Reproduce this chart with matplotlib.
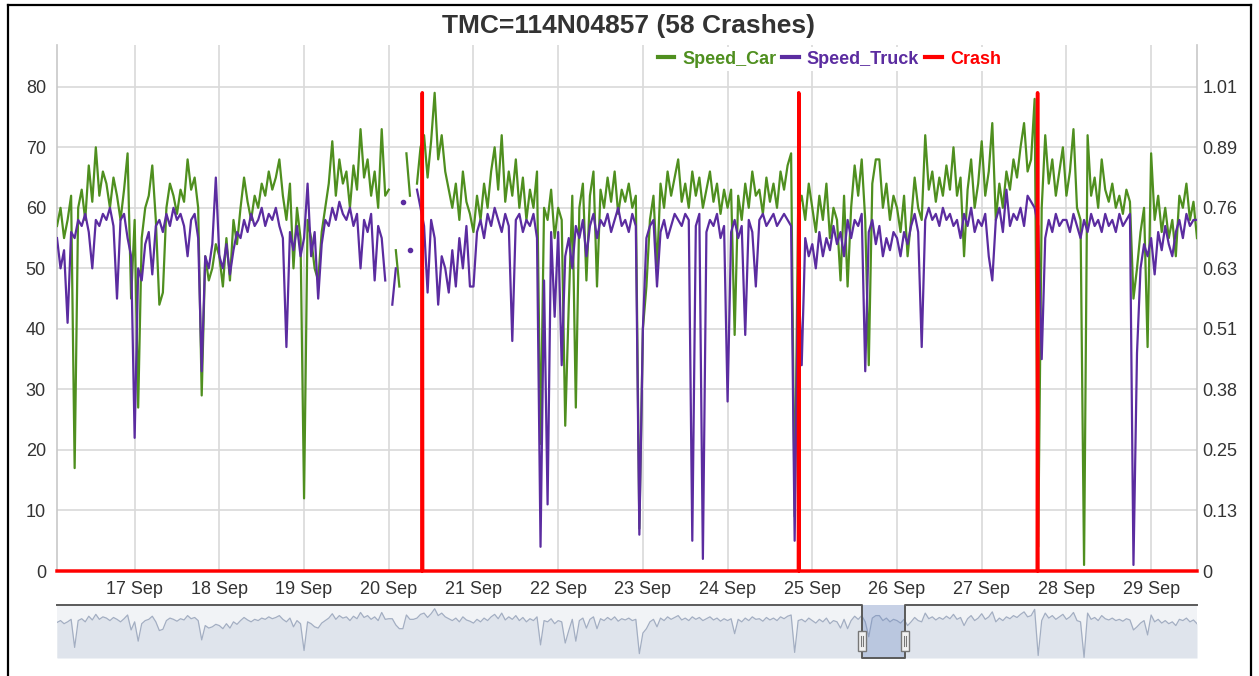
import numpy as np
import pandas as pd
import matplotlib
matplotlib.use('Agg')
import matplotlib.pyplot as plt
import matplotlib.dates as mdates
import matplotlib.transforms as mtransforms
from matplotlib.lines import Line2D
from matplotlib.patches import Rectangle

plt.rcParams['font.family'] = ['Liberation Sans', 'DejaVu Sans']

title = 'TMC=114N04857 (58 Crashes)'
start = '2019-09-16 02:00'
nan = np.nan

# hourly speeds, one list per day (16 Sep starts at 02:00, 29 Sep ends at 13:00)
car_16 = [57, 60, 55, 58, 62, 17, 60, 63, 58, 67, 61, 70, 62, 66, 64, 60, 65, 62, 58, 63, 69, 45]
car_17 = [58, 27, 55, 60, 62, 67, 58, 44, 46, 60, 64, 62, 59, 63, 61, 68, 63, 65, 60, 29, 52, 48, 50, 54]
car_18 = [52, 47, 55, 48, 58, 54, 60, 65, 61, 58, 62, 60, 64, 62, 66, 63, 65, 68, 62, 58, 64, 50, 60, 55]
car_19 = [12, 58, 55, 50, 48, 56, 60, 64, 71, 62, 68, 64, 66, 60, 67, 63, 73, 65, 68, 62, 66, 60, 73, 62]
car_20 = [63, nan, 53, 47, nan, 69, 62, nan, 64, 70, 72, 65, 71, 79, 68, 72, 66, 63, 60, 64, 58, 66, 61, 59]
car_21 = [56, 62, 58, 64, 60, 66, 70, 63, 72, 61, 66, 62, 68, 60, 65, 58, 63, 60, 66, 21, 60, 58, 63, 55]
car_22 = [60, 58, 24, 44, 62, 27, 60, 64, 48, 62, 66, 47, 63, 60, 65, 61, 66, 59, 63, 61, 64, 60, 62, 7]
car_23 = [40, 47, 58, 62, 50, 64, 60, 66, 62, 65, 68, 61, 64, 60, 66, 62, 65, 60, 63, 66, 61, 64, 59, 63]
car_24 = [60, 63, 39, 62, 58, 64, 60, 66, 62, 63, 59, 65, 61, 64, 60, 66, 63, 67, 69, 9, 60, 62, 58, 64]
car_25 = [60, 56, 62, 58, 64, 55, 60, 58, 48, 62, 47, 60, 67, 62, 68, 58, 34, 64, 68, 68, 60, 64, 58, 62]
car_26 = [60, 56, 62, 52, 58, 65, 60, 58, 72, 63, 66, 61, 65, 62, 67, 63, 70, 62, 65, 52, 63, 68, 60, 64]
car_27 = [71, 62, 66, 74, 58, 64, 60, 66, 63, 68, 65, 70, 74, 66, 68, 78, 4, 60, 72, 64, 68, 62, 66, 70]
car_28 = [62, 66, 73, 60, 58, 1, 72, 62, 65, 60, 68, 63, 61, 64, 60, 62, 59, 63, 61, 45, 50, 56, 60, 37]
car_29 = [69, 58, 62, 56, 60, 55, 58, 52, 62, 60, 64, 58, 61, 55]

truck_16 = [55, 50, 53, 41, 56, 55, 58, 57, 59, 56, 50, 58, 57, 59, 58, 60, 57, 45, 58, 59, 55, 52]
truck_17 = [22, 50, 48, 54, 56, 49, 57, 58, 56, 59, 57, 60, 58, 59, 57, 52, 58, 59, 55, 33, 52, 50, 54, 65]
truck_18 = [52, 50, 54, 49, 53, 56, 55, 58, 56, 59, 57, 58, 60, 57, 59, 58, 60, 57, 55, 37, 56, 53, 57, 52]
truck_19 = [55, 64, 52, 56, 45, 54, 58, 57, 60, 58, 61, 59, 58, 60, 57, 59, 50, 58, 56, 59, 48, 57, 55, 48]
truck_20 = [nan, 44, 50, nan, 61, nan, 53, nan, 63, 60, 57, 46, 58, 55, 44, 52, 50, 46, 53, 47, 55, 50, 57, 47]
truck_21 = [47, 56, 58, 55, 59, 57, 60, 58, 56, 59, 57, 38, 58, 59, 56, 58, 57, 59, 55, 4, 48, 11, 56, 42]
truck_22 = [56, 34, 52, 55, 50, 57, 55, 58, 52, 57, 59, 55, 58, 57, 59, 56, 58, 60, 57, 58, 56, 59, 57, 6]
truck_23 = [40, 55, 57, 58, 47, 56, 58, 55, 57, 59, 58, 57, 59, 58, 5, 57, 59, 2, 56, 58, 57, 59, 55, 57]
truck_24 = [28, 56, 58, 55, 57, 39, 58, 56, 47, 58, 59, 57, 58, 59, 57, 58, 59, 58, 57, 5, 50, 34, 55, 52]
truck_25 = [54, 50, 56, 52, 55, 53, 57, 54, 56, 52, 58, 55, 58, 57, 59, 33, 56, 58, 54, 57, 52, 55, 53, 56]
truck_26 = [55, 52, 56, 54, 57, 59, 56, 37, 58, 60, 58, 59, 57, 60, 58, 59, 57, 58, 55, 59, 57, 60, 56, 58]
truck_27 = [57, 59, 52, 48, 58, 60, 56, 63, 57, 59, 58, 60, 57, 62, 61, 60, 57, 35, 55, 58, 56, 59, 57, 58]
truck_28 = [58, 56, 59, 57, 55, 58, 56, 59, 57, 58, 56, 59, 57, 58, 56, 59, 57, 58, 59, 1, 36, 50, 54, 52]
truck_29 = [55, 49, 56, 53, 57, 54, 52, 56, 58, 55, 59, 57, 58, 58]

crash_times = ['2019-09-20 09:30', '2019-09-24 20:10', '2019-09-27 15:50']
right_labels = ['0', '0.13', '0.25', '0.38', '0.51', '0.63', '0.76', '0.89', '1.01']
left_ticks = [0, 10, 20, 30, 40, 50, 60, 70, 80]
nav_sel = ['2019-09-25 14:00', '2019-09-26 02:15']

car = np.array(car_16 + car_17 + car_18 + car_19 + car_20 + car_21 + car_22 +
               car_23 + car_24 + car_25 + car_26 + car_27 + car_28 + car_29, dtype=float)
truck = np.array(truck_16 + truck_17 + truck_18 + truck_19 + truck_20 + truck_21 + truck_22 +
                 truck_23 + truck_24 + truck_25 + truck_26 + truck_27 + truck_28 + truck_29, dtype=float)
times = pd.date_range(start, periods=len(car), freq='h')

c_car = '#4f8f1f'
c_truck = '#5b2ca0'
c_crash = '#ff0000'
grid_c = '#d9d9d9'
txt_c = '#333333'

W, H = 1259, 676
fig = plt.figure(figsize=(W / 100, H / 100), dpi=100)

# main plot area
ax = fig.add_axes([57 / W, 1 - 571 / H, 1140 / W, 526 / H])
ymax = 86.9
ax.set_ylim(0, ymax)
ax.set_xlim(times[0], times[-1])


def isolated(v):
    prev = np.r_[nan, v[:-1]]
    nxt = np.r_[v[1:], nan]
    return np.isfinite(v) & ~np.isfinite(prev) & ~np.isfinite(nxt)


ax.plot(times, car, color=c_car, lw=1.6, zorder=3)
m = isolated(car)
ax.plot(times[m], car[m], 'o', color=c_car, ms=3, zorder=3)
ax.plot(times, truck, color=c_truck, lw=1.6, zorder=4)
m = isolated(truck)
ax.plot(times[m], truck[m], 'o', color=c_truck, ms=3, zorder=4)

ax.set_yticks(left_ticks)
ax.xaxis.set_major_locator(mdates.DayLocator())
ax.xaxis.set_major_formatter(mdates.DateFormatter('%d %b'))
ax.grid(True, color=grid_c, lw=1.2, zorder=0)
ax.tick_params(length=0, labelsize=13, labelcolor=txt_c)
ax.tick_params(axis='y', pad=8)
ax.tick_params(axis='x', pad=7)
for s in ['top', 'bottom']:
    ax.spines[s].set_visible(False)
for s in ['left', 'right']:
    ax.spines[s].set_color('#c8c8c8')
    ax.spines[s].set_linewidth(1.2)

# right axis for crash flag
ax2 = ax.twinx()
rmax = 1.0125
ax2.set_ylim(0, ymax * rmax / 80)
ax2.set_yticks(np.linspace(0, rmax, len(right_labels)))
ax2.set_yticklabels(right_labels)
ax2.tick_params(length=0, labelsize=13, labelcolor=txt_c, pad=4)
for s in ax2.spines.values():
    s.set_visible(False)

ct = pd.to_datetime(crash_times)
dt = pd.Timedelta(minutes=6)
cx = [times[0]]
cy = [0]
for t in ct:
    cx += [t - dt, t, t + dt]
    cy += [0, 1, 0]
cx.append(times[-1])
cy.append(0)
ax2.plot(cx, cy, color=c_crash, lw=2.5, clip_on=False, zorder=5)

# title and legend
fig.text(628 / W, 1 - 26 / H, title, ha='center', va='center', fontsize=19,
         fontweight='bold', color=txt_c)
handles = [Line2D([], [], color=c, lw=3) for c in (c_car, c_truck, c_crash)]
leg = fig.legend(handles, ['Speed_Car', 'Speed_Truck', 'Crash'], ncol=3,
                 loc='upper left', bbox_to_anchor=(645 / W, 1 - 38 / H),
                 prop={'size': 13, 'weight': 'bold'}, frameon=True,
                 facecolor='white', edgecolor='none', framealpha=1,
                 handlelength=0.9, handletextpad=0.45, columnspacing=0.35,
                 borderpad=0.2)
for t, c in zip(leg.get_texts(), (c_car, c_truck, c_crash)):
    t.set_color(c)

# navigator
nav = fig.add_axes([57 / W, 1 - 658 / H, 1140 / W, 53 / H])
nav.set_facecolor('#f1f3f6')
nav.set_xlim(times[0], times[-1])
nav.set_ylim(0, 85)
car_nav = pd.Series(car).ffill().to_numpy()
nav.fill_between(times, car_nav, 0, color='#dfe4ec', lw=0)
nav.plot(times, car_nav, color='#a3aec2', lw=0.9)
s0, s1 = pd.to_datetime(nav_sel)
tr = mtransforms.blended_transform_factory(nav.transData, nav.transAxes)
nav.add_patch(Rectangle((mdates.date2num(s0), 0), mdates.date2num(s1) - mdates.date2num(s0), 1,
                        transform=tr, facecolor=(102 / 255, 133 / 255, 194 / 255, 0.3),
                        edgecolor='none', zorder=3))
nav.plot([times[0], s0, s0, s1, s1, times[-1]], [1, 1, 0, 0, 1, 1], transform=tr,
         color='#5a5a5a', lw=1.4, clip_on=False, zorder=4)
hw = 0.045
for s in (s0, s1):
    x0 = mdates.date2num(s)
    nav.add_patch(Rectangle((x0 - hw, 0.14), 2 * hw, 0.36, transform=tr,
                            facecolor='#f2f2f2', edgecolor='#777777', lw=1.0, zorder=5))
    nav.plot([x0 - hw * 0.3, x0 - hw * 0.3], [0.22, 0.42], transform=tr, color='#777777', lw=0.8, zorder=6)
    nav.plot([x0 + hw * 0.3, x0 + hw * 0.3], [0.22, 0.42], transform=tr, color='#777777', lw=0.8, zorder=6)
nav.set_xticks([])
nav.set_yticks([])
for s in nav.spines.values():
    s.set_visible(False)

# outer frame of the widget
for xs, ys in (([8 / W, 8 / W], [0, 1 - 5 / H]),
               ([1251 / W, 1251 / W], [0, 1 - 5 / H]),
               ([8 / W, 1251 / W], [1 - 5 / H, 1 - 5 / H])):
    fig.add_artist(Line2D(xs, ys, transform=fig.transFigure, color='black', lw=1.6))

fig.savefig('out.png', dpi=100)
